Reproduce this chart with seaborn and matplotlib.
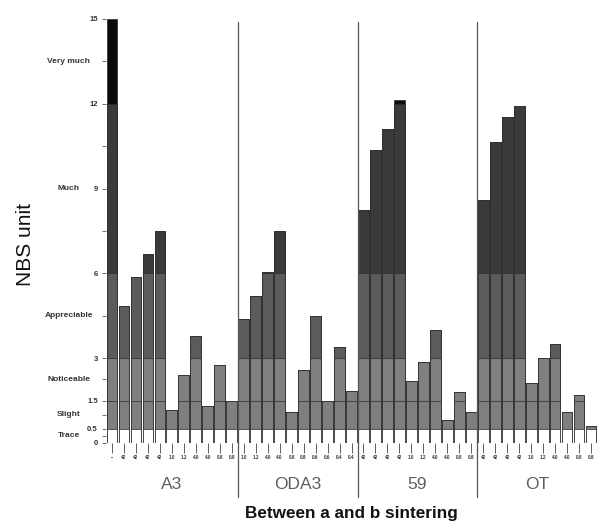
import numpy as np
import pandas as pd
import matplotlib
matplotlib.use("Agg")
import matplotlib.pyplot as plt
import matplotlib.transforms as mtransforms
from matplotlib.lines import Line2D
import seaborn as sns

# ---- data -------------------------------------------------------------
groups = ["A3", "ODA3", "59", "OT"]
a3_values = [15.0, 4.85, 5.87, 6.7, 7.5, 1.18, 2.4, 3.79, 1.3, 2.76, 1.47]
oda3_values = [4.38, 5.2, 6.06, 7.5, 1.09, 2.59, 4.5, 1.49, 3.38, 1.85]
s59_values = [8.24, 10.38, 11.12, 12.12, 2.2, 2.87, 3.99, 0.81, 1.81, 1.08]
ot_values = [8.61, 10.64, 11.53, 11.93, 2.12, 2.99, 3.49, 1.08, 1.69, 0.61]

a3_ticks = ["--", "42", "42", "42", "42", "1.0", "1.2", "4.0", "4.0", "0.8", "0.8"]
oda3_ticks = ["1.0", "1.2", "4.0", "4.0", "0.8", "0.8", "0.6", "0.6", "0.4", "0.4"]
s59_ticks = ["42", "42", "42", "42", "1.0", "1.2", "4.0", "4.0", "0.8", "0.8"]
ot_ticks = ["42", "42", "42", "42", "1.0", "1.2", "4.0", "4.0", "0.8", "0.8"]

# NBS intensity scale: band upper limits and their names
band_tops = [15, 12, 6, 3, 1.5, 0.5]
band_colors = ["#0a0a0a", "#3a3a3a", "#5b5b5b", "#7f7f7f", "#7f7f7f", "#ffffff"]
scale_ticks = [0, 0.5, 1.5, 3, 6, 9, 12, 15]
scale_tick_labels = ["0", "0.5", "1.5", "3", "6", "9", "12", "15"]
scale_names = ["Very much", "Much", "Appreciable", "Noticeable", "Slight", "Trace"]
scale_name_pos = [13.5, 9, 4.5, 2.25, 1.0, 0.25]

# ---- table ------------------------------------------------------------
all_values = a3_values + oda3_values + s59_values + ot_values
all_ticks = a3_ticks + oda3_ticks + s59_ticks + ot_ticks
group_sizes = [len(a3_values), len(oda3_values), len(s59_values), len(ot_values)]
df = pd.DataFrame({
    "pos": np.arange(len(all_values)),
    "nbs": all_values,
    "group": np.repeat(groups, group_sizes),
})

# ---- figure -----------------------------------------------------------
sns.set_style("ticks")
plt.rcParams["font.family"] = ["Liberation Sans", "DejaVu Sans"]

fig = plt.figure(figsize=(5.99, 5.27), dpi=100)
ax = fig.add_axes([0.177, 0.1594, 0.8197, 0.8046])

# stacked appearance: draw the clipped bars from the highest band downwards
for top, col in zip(band_tops, band_colors):
    layer = df.assign(h=np.minimum(df["nbs"], top))
    sns.barplot(data=layer, x="pos", y="h", color=col, saturation=1,
                width=0.9, edgecolor="#2b2b2b", linewidth=0.5, ax=ax,
                errorbar=None, zorder=2)

n = len(all_values)
ax.set_xlim(-0.5, n - 0.5)
ax.set_ylim(0, 15)
sns.despine(ax=ax, left=True, bottom=True)
ax.set_xlabel("")
ax.set_ylabel("")

# x ticks
ax.set_xticks(range(n))
ax.set_xticklabels(all_ticks, fontsize=3.3, fontweight="bold", color="#333333")
ax.tick_params(axis="x", length=7, width=0.6, pad=1.5, color="#444444")

# y ticks
ax.set_yticks(scale_ticks)
ax.set_yticklabels(scale_tick_labels, fontsize=5.5, fontweight="bold",
                   color="#333333")
ax.set_yticks(scale_name_pos[:1] + [10.5, 7.5] + scale_name_pos[2:], minor=True)
ax.tick_params(axis="y", which="both", length=3, width=0.6, pad=3,
               color="#555555")

# scale names on the left
name_tf = mtransforms.blended_transform_factory(fig.transFigure, ax.transData)
for name, yv in zip(scale_names, scale_name_pos):
    ax.text(0.115, yv, name, transform=name_tf, ha="center", va="center",
            fontsize=6, fontweight="bold", color="#333333")

# group separators, running from the top down into the label area
sep_tf = mtransforms.blended_transform_factory(ax.transData, ax.transAxes)
edges = np.cumsum(group_sizes)[:-1] - 0.5
for b in edges:
    ax.add_line(Line2D([b, b], [-0.128, 0.993], transform=sep_tf,
                       color="#555555", lw=0.9, clip_on=False, zorder=3))

# group names
starts = np.concatenate([[0], np.cumsum(group_sizes)[:-1]])
for g, s, k in zip(groups, starts, group_sizes):
    ax.text(s + (k - 1) / 2, -0.099, g, transform=sep_tf, ha="center",
            va="center", fontsize=12.5, color="#5e5e5e")

ax.text(0.5, -0.166, "Between a and b sintering", transform=ax.transAxes,
        ha="center", va="center", fontsize=12.3, fontweight="bold",
        color="#111111")
fig.text(0.042, 0.537, "NBS unit", rotation=90, ha="center", va="center",
         fontsize=15, color="#111111")

fig.savefig("out.png", dpi=100)
